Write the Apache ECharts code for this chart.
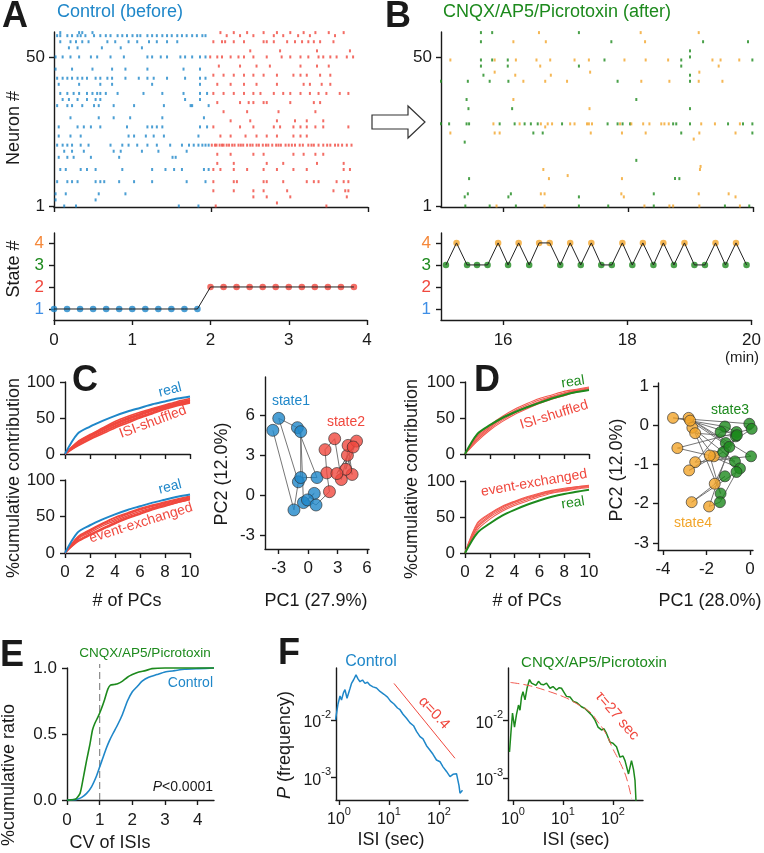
<!DOCTYPE html>
<html><head><meta charset="utf-8">
<script src="https://cdn.jsdelivr.net/npm/echarts@6/dist/echarts.min.js"></script>
<style>html,body{margin:0;padding:0;background:#fff}#c{width:764px;height:853px}</style>
</head><body><div id="c"></div>
<script>
// ---------------- DATA ----------------
// Panel A raster: [neuron, [spike times (min)]]
const controlRasterState1 = [
 [58,[0.08,0.32,0.36,0.49]],
 [57,[0.04,0.08,0.17,0.23,0.30,0.34,0.40,0.51,0.59,0.66,0.72,0.81,0.87,0.93,1.0,1.06,1.10,1.19,1.25,1.31,1.38,1.44,1.50,1.57,1.63,1.69,1.76,1.82,1.89,1.93]],
 [55,[0.08,0.21,0.28,0.36,0.44,0.68,0.78,0.95,1.06,1.21,1.31,1.44,1.57]],
 [53,[0.19,0.30,0.61,0.85,1.12]],
 [50,[0.02,0.11,0.21,0.32,0.47,0.55,0.72,0.89,1.19,1.25,1.36,1.44,1.61,1.67,1.76,1.86,1.93]],
 [46,[0.02,0.23,0.49,0.74,0.91,1.19,1.65,1.86]],
 [43,[0.04,0.11,0.17,0.23,0.30,0.36,0.42,0.53,0.59,0.68,0.74,0.91,1.08,1.19,1.27,1.44,1.67,1.86,1.93]],
 [41,[0.06,0.32,0.59,0.74,1.25,1.86]],
 [38,[0.08,0.17,0.25,0.32,0.42,0.49,0.55,0.59,0.66,0.81,1.14,1.38,1.65,1.86,1.95]],
 [36,[0.11,0.19,0.30,0.42,0.53,0.59,1.67,1.86]],
 [34,[0.04,0.17,0.23,0.36,0.51,0.57,0.76,1.02,1.40,1.74,1.76,1.97]],
 [30,[0.21,0.57,0.76,0.97,1.38,1.91]],
 [27,[0.06,0.30,0.38,0.47,0.59,0.93,1.19,1.25,1.31,1.38,1.86,1.95]],
 [24,[0.06,0.21,0.34,0.95,1.02,1.17,1.27,1.40,1.84]],
 [21,[0.04,0.11,0.17,0.23,0.34,0.44,0.72,0.87,0.95,1.06,1.19,1.31,1.48,1.63,1.72,1.78,1.84,1.89,1.93,1.97]],
 [19,[0.13,0.23,0.38,0.76,0.85,1.12,1.33,1.69]],
 [17,[0.06,0.17,0.25,0.47,0.83,1.51,1.55]],
 [13,[0.08,0.15,0.34,0.42,0.53,0.87,1.25,1.42,1.53,1.63,1.91,1.97]],
 [9,[0.04,0.17,0.23,0.30,0.53,0.59,0.64,0.83,1.02,1.25,1.69,1.93]],
 [5,[0.02,0.15,0.57,0.91]],
 [3,[0.02,0.53]],
 [1,[0.13,0.28,1.59,1.84]]
];
const controlRasterState2 = [
 [58,[2.12,2.29,2.46,2.67,2.84,3.01,3.18,3.33,3.50,3.69]],
 [57,[2.20,2.37,2.54,2.80,2.92,3.11,3.26,3.58]],
 [55,[2.03,2.14,2.18,2.29,2.42,2.67,2.71,2.80,2.97,3.07,3.16,3.24,3.31,3.39,3.56]],
 [52,[2.50,2.88,3.35,3.77]],
 [50,[1.99,2.08,2.14,2.25,2.35,2.42,2.54,2.71,2.90,3.01,3.14,3.24,3.37,3.43,3.52,3.60,3.73,3.81]],
 [47,[2.10,2.37,2.58,2.75,3.14,3.35,3.50]],
 [44,[2.03,2.16,2.29,2.42,2.54,2.67,2.84,3.05,3.14,3.22,3.39,3.52]],
 [41,[2.08,2.25,2.42,2.58,2.84,3.18,3.26,3.41,3.52]],
 [38,[2.03,2.16,2.29,2.42,2.54,2.63,2.80,2.92,3.01,3.14,3.26,3.37,3.47,3.64,3.75]],
 [35,[2.08,2.37,2.48,2.54,2.67,2.71,3.01,3.31,3.39]],
 [32,[2.16,2.46,2.86,3.33]],
 [29,[2.25,2.50,2.84,3.07,3.22,3.43]],
 [27,[2.03,2.37,2.54,2.80,2.88,3.05,3.14,3.22,3.33,3.43,3.75]],
 [24,[2.12,2.25,2.44,2.58,2.71,2.84,3.05,3.14,3.22]],
 [21,[2.01,2.05,2.07,2.11,2.14,2.16,2.20,2.23,2.27,2.30,2.35,2.38,2.41,2.46,2.50,2.53,2.58,2.61,2.66,2.70,2.73,2.78,2.83,2.86,2.89,2.95,2.99,3.03,3.07,3.13,3.17,3.24,3.28,3.31,3.37,3.43,3.48,3.52,3.58,3.62,3.67,3.73,3.79]],
 [18,[2.08,2.25,2.54,2.67,3.05,3.18,3.33,3.43]],
 [15,[2.08,2.29,2.71,2.92,3.35,3.69]],
 [13,[2.03,2.12,2.29,2.46,2.67,2.84,3.05,3.22,3.69,3.77]],
 [9,[2.03,2.29,2.33,2.67,2.71,2.92,3.22,3.31,3.37,3.60,3.69,3.75]],
 [6,[2.03,2.29,2.54,2.67,2.97,3.56,3.71,3.75]],
 [4,[2.54,2.71,3.01,3.73]],
 [2,[2.84]],
 [1,[2.06,3.47]]
];
// Panel B raster: [time (min), neuron]
const cnqxSpikesState3 = [[15.0,42],[15.0,28],[15.13,28],[15.38,22],[15.41,36],[15.44,33],[15.43,42],[15.41,28],[15.45,28],[15.45,10],[15.43,5],[15.38,4],[15.39,1],[15.64,58],[15.64,55],[15.64,49],[15.64,47],[15.68,44],[15.78,42],[15.78,1],[15.82,58],[15.82,49],[15.94,28],[16.07,49],[16.07,47],[16.08,42],[16.08,4],[16.12,5],[16.14,33],[16.18,28],[16.2,1],[16.34,28],[16.44,28],[16.48,25],[16.55,28],[16.63,25],[16.94,28],[17.21,58],[17.21,47],[17.21,4],[17.21,1],[17.62,49],[17.67,28],[17.73,55],[17.68,1],[17.83,42],[17.83,28],[17.91,28],[18.03,28],[18.13,36],[18.13,16],[18.41,5],[18.41,1],[18.72,28],[18.75,10],[18.77,28],[18.82,10],[18.85,49],[18.85,47],[18.85,25],[18.99,52],[18.99,50],[18.99,44],[18.99,42],[18.99,33],[18.99,28],[19.2,55],[19.55,1],[19.6,28],[19.84,28],[19.92,55],[19.94,1],[19.99,49],[19.99,25],[19.99,28]];
const cnqxSpikesState4 = [[15.15,49],[15.15,25],[15.86,25],[15.86,49],[15.86,45],[15.84,28],[15.89,1],[15.94,25],[16.16,55],[16.16,36],[16.19,44],[16.2,49],[16.32,42],[16.26,28],[16.53,49],[16.57,58],[16.59,47],[16.6,28],[16.6,5],[16.64,13],[16.66,5],[16.66,1],[16.67,42],[16.67,27],[16.68,55],[16.71,28],[16.73,10],[16.75,49],[16.76,44],[16.78,28],[17.02,42],[17.03,11],[17.07,28],[17.14,28],[17.14,49],[17.34,28],[17.37,49],[17.37,28],[17.38,33],[17.39,45],[17.4,25],[17.42,28],[17.87,28],[17.9,25],[17.9,10],[17.89,5],[17.93,4],[17.94,49],[18.05,28],[18.2,58],[18.21,42],[18.24,28],[18.27,55],[18.28,49],[18.28,25],[18.26,1],[18.34,28],[18.53,28],[18.58,28],[18.64,49],[18.65,28],[18.66,42],[18.66,1],[18.72,1],[19.05,23],[19.13,58],[19.14,45],[19.13,42],[19.14,25],[19.16,14],[19.15,13],[19.13,5],[19.14,1],[19.17,28],[19.35,49],[19.39,28],[19.45,47],[19.48,49],[19.51,42],[19.61,5],[19.72,4],[19.72,25],[19.78,49],[19.79,28],[19.79,1]];
// State sequences
const stateTimesA = [0,0.167,0.333,0.5,0.667,0.833,1,1.167,1.333,1.5,1.667,1.833,2,2.167,2.333,2.5,2.667,2.833,3,3.167,3.333,3.5,3.667,3.833];
const statesA = [1,1,1,1,1,1,1,1,1,1,1,1,2,2,2,2,2,2,2,2,2,2,2,2];
const stateTimesB = [15.08,15.25,15.42,15.58,15.75,15.92,16.08,16.25,16.42,16.58,16.75,16.92,17.08,17.25,17.42,17.58,17.75,17.92,18.08,18.25,18.42,18.58,18.75,18.92,19.08,19.25,19.42,19.58,19.75,19.92];
const statesB = [3,4,3,3,3,4,3,4,3,4,4,3,4,3,4,3,3,4,3,4,3,4,3,4,3,3,4,3,4,3];
// PCA cumulative contribution (%)
const numPCs = [0,1,2,3,4,5,6,7,8,9,10];
const cTopReal = [0,28,38,46,53,59,64,69,73,77,80];
const cTopShuffled = [
 [0,11,20,28,36,43,50,56,62,67,71],
 [0,12,21,30,38,45,51,57,63,68,72],
 [0,13,22,31,39,46,52,58,64,69,73],
 [0,14,24,33,41,48,54,60,65,70,74],
 [0,15,25,34,42,49,55,61,66,71,75],
 [0,16,26,35,43,50,56,62,67,71,75],
 [0,17,27,36,45,52,58,63,68,73,77]];
const cBotReal = [0,28,38,46,53,59,64,69,73,77,80];
const cBotExchanged = [
 [0,15,24,32,40,47,53,59,64,69,73],
 [0,16,25,33,41,48,54,60,65,69,73],
 [0,17,26,34,42,49,55,61,66,70,74],
 [0,19,28,37,44,51,57,62,67,71,75],
 [0,20,30,39,46,53,59,64,68,72,76],
 [0,21,31,40,48,54,60,65,69,73,77],
 [0,22,32,41,49,55,61,66,70,74,78]];
const dTopReal = [0,28,40,50,58,65,71,77,82,86,89];
const dTopShuffled = [
 [0,18,33,45,55,63,70,76,81,86,90],
 [0,20,35,47,57,65,72,78,83,87,91],
 [0,22,37,49,58,66,73,79,84,88,91],
 [0,24,38,50,60,68,75,80,85,89,92],
 [0,26,40,52,62,70,77,82,87,90,93]];
const dBotReal = [0,28,41,52,60,67,73,78,82,85,88];
const dBotExchanged = [
 [0,32,47,58,66,72,78,83,86,89,91],
 [0,35,50,60,68,74,80,84,87,90,92],
 [0,37,52,62,70,76,81,85,88,91,93],
 [0,40,54,64,71,77,82,86,89,92,93],
 [0,42,55,65,72,78,83,87,90,92,94]];
// PCA trajectories (time order)
const cPC1 = [-3.6,-1.45,-1.0,-3.0,-1.1,0.9,-0.76,-0.76,-0.48,0.62,-0.07,0.8, 2.17,1.9,1.72,2.7,3.38,4.0,4.48,4.07,3.83,4.93,2.93,4.59];
const cPC2 = [4.9,-1.07,1.04,5.8,5.1,1.36,1.36,4.8,-0.52,0.17,-0.32,-0.7, 0.3,1.71,3.45,4.27,1.21,3.03,1.59,3.77,1.98,4.09,1.66,3.65];
const cTrajStates = statesA;
const dPC1 = [-0.03,-3.54,-1.15,-0.62,-1.35,-2.52,0.05,-2.82,-1.11,-1.66,-2.65,-0.69,-3.34,0.08,-2.8,-1.23,-0.46,-1.85,-1.35,-2.52,-0.65,-1.62,-1.15,-2.68,-0.62,-1.38,-1.88,-0.95,-2.75,-0.6];
const dPC2 = [0.04,0.19,-0.03,-0.17,-0.17,-0.94,-0.79,0.19,-0.45,-0.79,-0.06,-0.92,-0.58,-0.09,-1.15,-0.68,-1.1,-0.77,-1.74,-0.2,-0.28,-1.49,-1.3,-1.96,-1.19,-1.96,-2.07,-0.55,0.12,-0.25];
const dTrajStates = statesB;
// Panel E: cumulative ratio of CV of ISIs  [CV, ratio]
const cvCnqx = [[0,0],[0.25,0.005],[0.4,0.05],[0.5,0.17],[0.6,0.3],[0.7,0.42],[0.78,0.53],[0.85,0.58],[0.95,0.63],[1.05,0.69],[1.15,0.76],[1.25,0.84],[1.33,0.87],[1.45,0.875],[1.55,0.88],[1.7,0.9],[1.85,0.93],[2.0,0.95],[2.2,0.97],[2.4,0.98],[2.6,0.995],[3.0,1.0],[4.5,1.0]];
const cvControl = [[0,0],[0.3,0.005],[0.45,0.02],[0.6,0.05],[0.75,0.1],[0.9,0.18],[1.0,0.25],[1.1,0.32],[1.2,0.39],[1.3,0.45],[1.4,0.5],[1.55,0.57],[1.7,0.65],[1.85,0.75],[2.0,0.82],[2.15,0.86],[2.3,0.9],[2.5,0.93],[2.75,0.95],[3.0,0.97],[3.3,0.98],[3.6,0.99],[4.0,0.995],[4.5,1.0]];
const cvThreshold = 1;
// Panel F: ISI distributions, [log10 ISI (sec), log10 P]
const isiControlLog = [[-0.07,-2.0],[-0.02,-1.72],[0.02,-1.58],[0.05,-1.65],[0.09,-1.52],[0.12,-1.47],[0.16,-1.62],[0.19,-1.65],[0.22,-1.45],[0.25,-1.36],[0.29,-1.3],[0.34,-1.21],[0.38,-1.28],[0.42,-1.33],[0.47,-1.3],[0.52,-1.36],[0.57,-1.34],[0.62,-1.39],[0.68,-1.42],[0.75,-1.44],[0.82,-1.5],[0.9,-1.55],[0.97,-1.6],[1.03,-1.67],[1.1,-1.72],[1.17,-1.79],[1.22,-1.82],[1.28,-1.9],[1.35,-1.97],[1.42,-2.05],[1.49,-2.1],[1.55,-2.2],[1.62,-2.29],[1.68,-2.33],[1.75,-2.45],[1.82,-2.53],[1.88,-2.6],[1.95,-2.7],[2.02,-2.73],[2.08,-2.82],[2.15,-2.9],[2.22,-2.99],[2.28,-2.95],[2.35,-2.94],[2.4,-3.15],[2.42,-3.28],[2.47,-3.23]];
const powerLawLog = [[1.1,-1.36],[2.32,-2.67]];
const isiCnqxLog = [[-0.07,-2.55],[-0.04,-2.2],[-0.01,-1.88],[0.03,-2.12],[0.07,-1.9],[0.11,-1.74],[0.14,-1.83],[0.17,-1.6],[0.2,-1.51],[0.24,-1.65],[0.28,-1.45],[0.33,-1.3],[0.37,-1.36],[0.41,-1.34],[0.46,-1.4],[0.51,-1.33],[0.56,-1.38],[0.61,-1.39],[0.67,-1.36],[0.74,-1.45],[0.8,-1.42],[0.87,-1.48],[0.92,-1.44],[0.97,-1.45],[1.02,-1.52],[1.07,-1.59],[1.14,-1.6],[1.21,-1.68],[1.28,-1.7],[1.37,-1.77],[1.44,-1.8],[1.51,-1.86],[1.58,-1.92],[1.64,-2.0],[1.7,-2.12],[1.74,-2.1],[1.77,-2.17],[1.82,-2.15],[1.87,-2.23],[1.94,-2.38],[2.0,-2.4],[2.07,-2.46],[2.14,-2.64],[2.2,-2.62],[2.24,-2.7],[2.31,-2.93],[2.37,-2.7],[2.41,-2.85],[2.44,-3.04],[2.46,-3.4]];
const expFitLog = [[-0.05,-1.35],[0.3,-1.4],[0.7,-1.5],[1.07,-1.62],[1.3,-1.73],[1.54,-1.86],[1.67,-2.0],[1.85,-2.22],[2.0,-2.5],[2.15,-2.75],[2.27,-3.0],[2.37,-3.35]];

// ---------------- STYLE ----------------
const FONT = '"Liberation Sans", Arial, Helvetica, sans-serif';
const BLUE = '#1f87c9', RED = '#f0483e', GREEN = '#1d8a1d', ORANGE = '#f2a52a';
const STATE_COL = {1: BLUE, 2: RED, 3: GREEN, 4: ORANGE};
const STATE_LABEL_COL = {1: '#3f8fe6', 2: '#f0483e', 3: '#1d8a1d', 4: '#f5883a'};
const INK = '#1a1a1a';

function axis(gi, min, max, o) {
  o = o || {};
  const a = {
    type: 'value', gridIndex: gi, min: min, max: max,
    splitLine: {show: false},
    axisLine: {show: true, onZero: false, lineStyle: {color: INK, width: 1.4}},
    axisTick: {show: true, length: 5, lineStyle: {color: INK, width: 1.4}},
    axisLabel: {show: o.labels !== false, color: o.color || INK, fontSize: o.fs || 17, fontFamily: FONT, margin: o.margin || 10}
  };
  if (o.ticks) { a.axisTick.customValues = o.ticks; a.axisLabel.customValues = o.ticks; }
  if (o.fmt) a.axisLabel.formatter = o.fmt;
  if (o.rich) a.axisLabel.rich = o.rich;
  return a;
}
const supRich = {
  b: {fontSize: 16, fontFamily: FONT, color: INK, lineHeight: 22, verticalAlign: 'bottom'},
  s: {fontSize: 11, fontFamily: FONT, color: INK, lineHeight: 13, verticalAlign: 'top'}
};
const powFmt = v => '{b|10}{s|' + Math.round(Number(v)) + '}';
const stateColorFn = v => STATE_LABEL_COL[Math.round(Number(v))] || INK;

const grids = [
  {left: 54, top: 32, width: 314, height: 175},   // 0 A raster
  {left: 441, top: 32, width: 312, height: 175},  // 1 B raster
  {left: 54, top: 233, width: 313, height: 87},   // 2 A states
  {left: 441, top: 233, width: 312, height: 87},  // 3 B states
  {left: 65, top: 382, width: 125, height: 72},   // 4 C top
  {left: 65, top: 480, width: 125, height: 73},   // 5 C bottom
  {left: 265, top: 377, width: 104, height: 172}, // 6 C PCA
  {left: 465, top: 382, width: 124, height: 72},  // 7 D top
  {left: 465, top: 481, width: 124, height: 72},  // 8 D bottom
  {left: 658, top: 383, width: 95, height: 167},  // 9 D PCA
  {left: 67, top: 668, width: 147, height: 132},  // 10 E
  {left: 336, top: 668, width: 132, height: 132}, // 11 F control
  {left: 508, top: 668, width: 135, height: 132}  // 12 F cnqx
];

const xAxes = [
  axis(0, 0, 4, {ticks: [0, 2, 4], labels: false}),
  axis(1, 15, 20, {ticks: [16, 18, 20], labels: false}),
  axis(2, 0, 4, {ticks: [0, 1, 2, 3, 4], margin: 12}),
  axis(3, 15, 20, {ticks: [16, 18, 20], margin: 12}),
  axis(4, 0, 10, {ticks: [0, 2, 4, 6, 8, 10], labels: false}),
  axis(5, 0, 10, {ticks: [0, 2, 4, 6, 8, 10], fs: 17, margin: 11}),
  axis(6, -4.4, 6.2, {ticks: [-3, 0, 3, 6], fs: 17, margin: 11}),
  axis(7, 0, 10, {ticks: [0, 2, 4, 6, 8, 10], labels: false}),
  axis(8, 0, 10, {ticks: [0, 2, 4, 6, 8, 10], fs: 17, margin: 11}),
  axis(9, -4.23, 0.14, {ticks: [-4, -2, 0], fs: 17, margin: 11}),
  axis(10, 0, 4.5, {ticks: [0, 1, 2, 3, 4], fs: 17, margin: 12}),
  axis(11, -0.06, 2.58, {ticks: [0, 1, 2], fmt: powFmt, rich: supRich, margin: 6}),
  axis(12, -0.1, 2.6, {ticks: [0, 1, 2], fmt: powFmt, rich: supRich, margin: 6})
];
const yAxes = [
  axis(0, 0.67, 58.2, {ticks: [1, 50], margin: 9}),
  axis(1, 0.67, 58.2, {ticks: [1, 50], margin: 9}),
  axis(2, 0.5, 4.45, {ticks: [1, 2, 3, 4], margin: 10, color: stateColorFn}),
  axis(3, 0.5, 4.45, {ticks: [1, 2, 3, 4], margin: 10, color: stateColorFn}),
  axis(4, 0, 100, {ticks: [0, 50, 100], margin: 10}),
  axis(5, 0, 100, {ticks: [0, 50, 100], margin: 10}),
  axis(6, -4, 8.9, {ticks: [-3, 0, 3, 6], margin: 10}),
  axis(7, 0, 100, {ticks: [0, 50, 100], margin: 10}),
  axis(8, 0, 100, {ticks: [0, 50, 100], margin: 10}),
  axis(9, -3.18, 1.08, {ticks: [-3, -2, -1, 0, 1], margin: 9}),
  axis(10, 0, 1, {ticks: [0, 0.5, 1], fmt: v => Number(v).toFixed(1), margin: 10}),
  axis(11, -3.4, -1.09, {ticks: [-3, -2], fmt: powFmt, rich: supRich, margin: 5}),
  axis(12, -3.38, -1.1, {ticks: [-3, -2], fmt: powFmt, rich: supRich, margin: 5})
];

// ---------------- SERIES ----------------
const series = [];
function rasterPoints(rows) {
  const pts = [];
  rows.forEach(r => r[1].forEach(t => pts.push([t, r[0]])));
  return pts;
}
function spikes(gi, data, color) {
  series.push({type: 'scatter', xAxisIndex: gi, yAxisIndex: gi, data: data, symbol: 'rect',
    symbolSize: [2, 3], itemStyle: {color: color}, silent: true});
}
spikes(0, rasterPoints(controlRasterState1), BLUE);
spikes(0, rasterPoints(controlRasterState2), RED);
spikes(1, cnqxSpikesState3, GREEN);
spikes(1, cnqxSpikesState4, ORANGE);

function stateSeq(gi, times, states) {
  const pts = times.map((t, i) => [t, states[i]]);
  series.push({type: 'line', xAxisIndex: gi, yAxisIndex: gi, data: pts, symbol: 'none',
    lineStyle: {color: '#222', width: 1}, silent: true});
  series.push({type: 'scatter', xAxisIndex: gi, yAxisIndex: gi, symbolSize: 6.5, silent: true,
    data: pts.map(p => ({value: p, itemStyle: {color: STATE_COL[p[1]]}}))});
}
stateSeq(2, stateTimesA, statesA);
stateSeq(3, stateTimesB, statesB);

function cumLine(gi, vals, color, width, z) {
  series.push({type: 'line', xAxisIndex: gi, yAxisIndex: gi, data: numPCs.map((x, i) => [x, vals[i]]),
    symbol: 'none', smooth: 0.3, lineStyle: {color: color, width: width}, silent: true, z: z});
}
cTopShuffled.forEach(v => cumLine(4, v, RED, 1.6, 2));
cumLine(4, cTopReal, BLUE, 2, 3);
cBotExchanged.forEach(v => cumLine(5, v, RED, 1.3, 2));
cumLine(5, cBotReal, BLUE, 2, 3);
dTopShuffled.forEach(v => cumLine(7, v, '#f25a50', 1.1, 2));
cumLine(7, dTopReal, GREEN, 2, 3);
dBotExchanged.forEach(v => cumLine(8, v, '#f25a50', 1.1, 2));
cumLine(8, dBotReal, GREEN, 2, 3);

function trajectory(gi, xs, ys, states, size) {
  const pts = xs.map((x, i) => [x, ys[i]]);
  series.push({type: 'line', xAxisIndex: gi, yAxisIndex: gi, data: pts, symbol: 'none',
    lineStyle: {color: '#666', width: 0.9}, silent: true, z: 2});
  series.push({type: 'scatter', xAxisIndex: gi, yAxisIndex: gi, symbolSize: size, silent: true, z: 3,
    data: pts.map((p, i) => ({value: p, itemStyle: {color: STATE_COL[states[i]], borderColor: '#2a2a2a', borderWidth: 0.8}}))});
}
trajectory(6, cPC1, cPC2, cTrajStates, 12);
trajectory(9, dPC1, dPC2, dTrajStates, 11);

series.push({type: 'line', xAxisIndex: 10, yAxisIndex: 10, data: [[cvThreshold, 0], [cvThreshold, 1.03]], symbol: 'none',
  lineStyle: {color: '#888', width: 1.2, type: [7, 4]}, clip: false, silent: true});
series.push({type: 'line', xAxisIndex: 10, yAxisIndex: 10, data: cvControl, symbol: 'none', smooth: 0.2,
  lineStyle: {color: BLUE, width: 1.6}, clip: false, silent: true});
series.push({type: 'line', xAxisIndex: 10, yAxisIndex: 10, data: cvCnqx, symbol: 'none', smooth: 0.2,
  lineStyle: {color: GREEN, width: 1.6}, clip: false, silent: true});

series.push({type: 'line', xAxisIndex: 11, yAxisIndex: 11, data: isiControlLog, symbol: 'none',
  lineStyle: {color: BLUE, width: 1.5}, silent: true});
series.push({type: 'line', xAxisIndex: 11, yAxisIndex: 11, data: powerLawLog, symbol: 'none',
  lineStyle: {color: RED, width: 1}, silent: true});
series.push({type: 'line', xAxisIndex: 12, yAxisIndex: 12, data: isiCnqxLog, symbol: 'none',
  lineStyle: {color: GREEN, width: 1.5}, silent: true});
series.push({type: 'line', xAxisIndex: 12, yAxisIndex: 12, data: expFitLog, symbol: 'none', smooth: 0.4,
  lineStyle: {color: '#f05a50', width: 1, type: [9, 4]}, silent: true, z: 3});

// ---------------- TEXT ----------------
function T(text, x, y, o) {
  o = o || {};
  const st = {text: text, fill: o.color || INK, fontSize: o.size || 18, fontFamily: FONT,
    fontWeight: o.weight || 'normal', fontStyle: o.style || 'normal',
    align: o.align || 'center', verticalAlign: 'middle', textAlign: o.align || 'center', textVerticalAlign: 'middle'};
  if (o.rich) st.rich = o.rich;
  return {type: 'text', x: x, y: y, rotation: o.rot || 0, silent: true, z: 100, style: st};
}
const V = Math.PI / 2;
const italicP = (size) => ({i: {fontStyle: 'italic', fontSize: size, fontFamily: FONT, fill: INK, color: INK},
                            n: {fontSize: size, fontFamily: FONT, fill: INK, color: INK}});
const graphics = [
  T('A', 2, 17, {size: 36, weight: 'bold', align: 'left'}),
  T('B', 385, 17, {size: 36, weight: 'bold', align: 'left'}),
  T('C', 72, 381, {size: 36, weight: 'bold', align: 'left'}),
  T('D', 474, 381, {size: 36, weight: 'bold', align: 'left'}),
  T('E', 0, 656, {size: 36, weight: 'bold', align: 'left'}),
  T('F', 278, 654, {size: 36, weight: 'bold', align: 'left'}),
  T('Control (before)', 57, 12, {color: BLUE, align: 'left'}),
  T('CNQX/AP5/Picrotoxin (after)', 443, 12, {color: GREEN, align: 'left'}),
  T('Neuron #', 14, 128, {rot: V}),
  T('State #', 14, 269, {rot: V}),
  T('(min)', 742, 358, {size: 15}),
  T('%cumulative contribution', 14, 478, {rot: V}),
  T('%cumulative contribution', 412, 479, {rot: V}),
  T('# of PCs', 127, 601),
  T('# of PCs', 527, 601),
  T('PC2 (12.0%)', 222, 474, {rot: V}),
  T('PC2 (12.0%)', 617, 470, {rot: V}),
  T('PC1 (27.9%)', 316, 601),
  T('PC1 (28.0%)', 710, 601),
  T('state1', 291, 401, {size: 14, color: BLUE}),
  T('state2', 346, 422, {size: 14, color: RED}),
  T('state3', 730, 410, {size: 14, color: GREEN}),
  T('state4', 693, 523, {size: 14, color: ORANGE}),
  T('real', 170, 390, {size: 14, color: BLUE, rot: 0.25}),
  T('ISI-shuffled', 153, 422, {size: 14, color: RED, rot: 0.36}),
  T('real', 170, 487, {size: 14, color: BLUE, rot: 0.25}),
  T('event-exchanged', 141, 523, {size: 14, color: RED, rot: 0.3}),
  T('real', 573, 382, {size: 14, color: GREEN, rot: 0.15}),
  T('ISI-shuffled', 554, 415, {size: 14, color: RED, rot: 0.3}),
  T('event-exchanged', 534, 483, {size: 14, color: RED, rot: 0.17}),
  T('real', 573, 503, {size: 14, color: GREEN, rot: 0.15}),
  T('CNQX/AP5/Picrotoxin', 145, 653, {size: 13.5, color: GREEN}),
  T('Control', 213, 683, {size: 14, color: BLUE, align: 'right'}),
  T('{i|P}{n|<0.0001}', 213, 787, {size: 14, align: 'right', rich: italicP(14)}),
  T('%cumulative ratio', 9, 775, {rot: V}),
  T('CV of ISIs', 110, 843),
  T('Control', 371, 662, {size: 16, color: BLUE}),
  T('CNQX/AP5/Picrotoxin', 594, 663, {size: 15, color: GREEN}),
  T('{i|P}{n| (frequency)}', 285, 745, {rot: V, rich: italicP(18)}),
  T('ISI (sec)', 391, 840),
  T('ISI (sec)', 576, 840),
  T('α=0.4', 434, 713, {size: 15, color: RED, rot: -0.82}),
  T('τ=27 sec', 617, 716, {size: 15, color: RED, rot: -0.86}),
  {type: 'polygon', silent: true, z: 100,
   shape: {points: [[372, 115], [408, 115], [408, 106], [425, 122], [408, 138], [408, 129], [372, 129]]},
   style: {fill: '#fff', stroke: '#333', lineWidth: 1.2}}
];

const chart = echarts.init(document.getElementById('c'), null, {renderer: 'canvas', width: 764, height: 853});
chart.setOption({
  animation: false,
  backgroundColor: '#fff',
  textStyle: {fontFamily: FONT},
  grid: grids,
  xAxis: xAxes,
  yAxis: yAxes,
  series: series,
  graphic: graphics
});
</script></body></html>
